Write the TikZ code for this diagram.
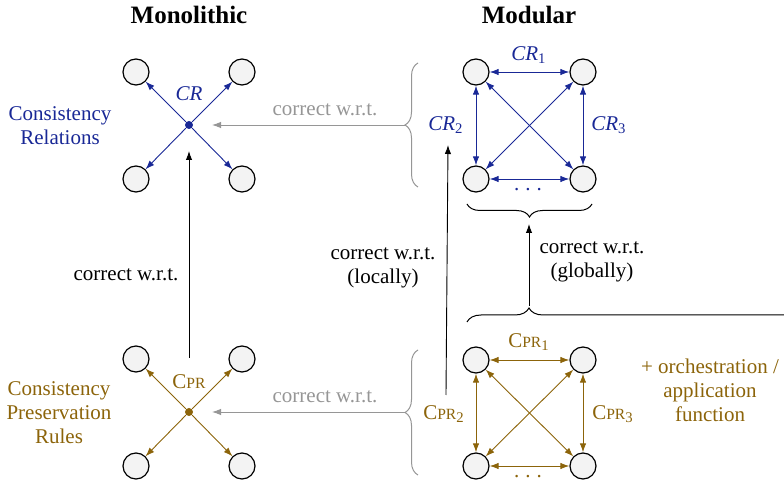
\documentclass[tikz,border=0pt]{standalone}
\usepackage{fontspec}
\setmainfont{Liberation Serif}
\usetikzlibrary{arrows.meta,decorations.pathreplacing}
\definecolor{crblue}{RGB}{25,40,150}
\definecolor{cprgold}{RGB}{140,100,10}
\definecolor{wrtgrey}{RGB}{150,150,150}
\definecolor{nodefill}{RGB}{243,243,243}
\newcommand{\mycpr}{C{\fontsize{7.8}{9}\selectfont PR}}
\newcommand{\mydots}{.\hspace{3pt}.\hspace{3pt}.}
\begin{document}
\begin{tikzpicture}[x=0.5pt,y=-0.5pt,font=\fontsize{10.5}{12}\selectfont,
  st/.style={circle,draw,line width=0.6pt,fill=nodefill,minimum size=13pt,inner sep=0pt},
  hub/.style={circle,fill=#1,minimum size=4pt,inner sep=0pt},
  arr/.style={-{Latex[length=4.5pt,width=3.2pt]},line width=0.45pt},
  darr/.style={{Latex[length=4.5pt,width=3.2pt]}-{Latex[length=4.5pt,width=3.2pt]},line width=0.45pt},
  lbl/.style={inner sep=0pt,align=center},
  ttl/.style={inner sep=0pt,font=\fontsize{12.5}{15}\selectfont\bfseries},
  brc/.style={decorate,decoration={brace,amplitude=6.5pt},line width=0.5pt}]
\useasboundingbox (0,0) rectangle (784,481);
\clip (0,0) rectangle (784,481);

% titles
\node[ttl] (t1) at (189,15) {Monolithic};
\node[ttl] (t2) at (529,15) {Modular};

% ---------- top left: monolithic CR ----------
\node[st] (a1) at (136,72) {};
\node[st] (a2) at (242,72) {};
\node[st] (a3) at (136,179) {};
\node[st] (a4) at (242,179) {};
\node[hub=crblue] (ac) at (189,125) {};
\foreach \n in {a1,a2,a3,a4} \draw[arr,crblue] (ac) -- (\n);
\node[lbl,crblue] (acl) at (189,94) {\textit{CR}};
\node[lbl,crblue] (acr) at (60,126) {Consistency\\Relations};

% ---------- bottom left: monolithic CPR ----------
\node[st] (b1) at (136,359) {};
\node[st] (b2) at (242,359) {};
\node[st] (b3) at (136,466) {};
\node[st] (b4) at (242,466) {};
\node[hub=cprgold] (bc) at (189,412) {};
\foreach \n in {b1,b2,b3,b4} \draw[arr,cprgold] (bc) -- (\n);
\node[lbl,cprgold] (bcl) at (189,382) {\mycpr};
\node[lbl,cprgold] (bcr) at (59,413) {Consistency\\Preservation\\Rules};

% ---------- top right: modular CR ----------
\node[st] (c1) at (476,72) {};
\node[st] (c2) at (583,72) {};
\node[st] (c3) at (476,179) {};
\node[st] (c4) at (583,179) {};
\draw[darr,crblue] (c1) -- (c2);
\draw[darr,crblue] (c1) -- (c3);
\draw[darr,crblue] (c2) -- (c4);
\draw[darr,crblue] (c3) -- (c4);
\draw[darr,crblue] (c1) -- (c4);
\draw[darr,crblue] (c2) -- (c3);
\node[lbl,crblue] (cl1) at (529,55) {\textit{CR}\textsubscript{1}};
\node[lbl,crblue] (cl2) at (446,125) {\textit{CR}\textsubscript{2}};
\node[lbl,crblue] (cl3) at (609,125) {\textit{CR}\textsubscript{3}};
\node[lbl,crblue] (cl4) at (528,190) {\mydots};

% ---------- bottom right: modular CPR ----------
\node[st] (d1) at (476,360) {};
\node[st] (d2) at (583,360) {};
\node[st] (d3) at (476,466) {};
\node[st] (d4) at (583,466) {};
\draw[darr,cprgold] (d1) -- (d2);
\draw[darr,cprgold] (d1) -- (d3);
\draw[darr,cprgold] (d2) -- (d4);
\draw[darr,cprgold] (d3) -- (d4);
\draw[darr,cprgold] (d1) -- (d4);
\draw[darr,cprgold] (d2) -- (d3);
\node[lbl,cprgold] (dl1) at (529,342) {\mycpr\textsubscript{1}};
\node[lbl,cprgold] (dl2) at (444,414) {\mycpr\textsubscript{2}};
\node[lbl,cprgold] (dl3) at (613,414) {\mycpr\textsubscript{3}};
\node[lbl,cprgold] (dl4) at (528,477) {\mydots};
\node[lbl,cprgold] (orch) at (710,390) {+ orchestration /\\application\\function};

% ---------- braces ----------
\coordinate (bra1s) at (418,187);
\coordinate (bra1e) at (418,63);
\draw[brc,wrtgrey] (bra1s) -- (bra1e);
\coordinate (bra1t) at (406,125);
\coordinate (bra2s) at (418,475);
\coordinate (bra2e) at (418,350);
\draw[brc,wrtgrey] (bra2s) -- (bra2e);
\coordinate (bra2t) at (406,412);
\coordinate (bra3s) at (592,204);
\coordinate (bra3e) at (467,204);
\draw[brc] (bra3s) -- (bra3e);
\coordinate (bra3t) at (529,224);
\coordinate (bra4s) at (467,322);
\coordinate (bra4e) at (800,322);
\draw[decorate,decoration={brace,amplitude=7pt,aspect=0.1862},line width=0.5pt] (bra4s) -- (bra4e);
\coordinate (bra4t) at (529,306);

% ---------- correctness arrows ----------
\coordinate (g1e) at (212,125);
\coordinate (g2e) at (212,412);
\draw[arr,wrtgrey] (bra1t) -- (g1e);
\node[lbl,wrtgrey] (w1) at (325,110) {correct w.r.t.};
\draw[arr,wrtgrey] (bra2t) -- (g2e);
\node[lbl,wrtgrey] (w2) at (325,397) {correct w.r.t.};
\coordinate (bup) at (189,358);
\coordinate (bupe) at (189,151);
\draw[arr] (bup) -- (bupe);
\node[lbl] (w3) at (126,275) {correct w.r.t.};
\coordinate (locs) at (446,395);
\coordinate (loce) at (448,145);
\draw[arr] (locs) -- (loce);
\node[lbl] (w4) at (383,268) {correct w.r.t.\\(locally)};
\draw[arr] (bra4t) -- (bra3t);
\node[lbl] (w5) at (592,262) {correct w.r.t.\\(globally)};
\end{tikzpicture}
\end{document}
